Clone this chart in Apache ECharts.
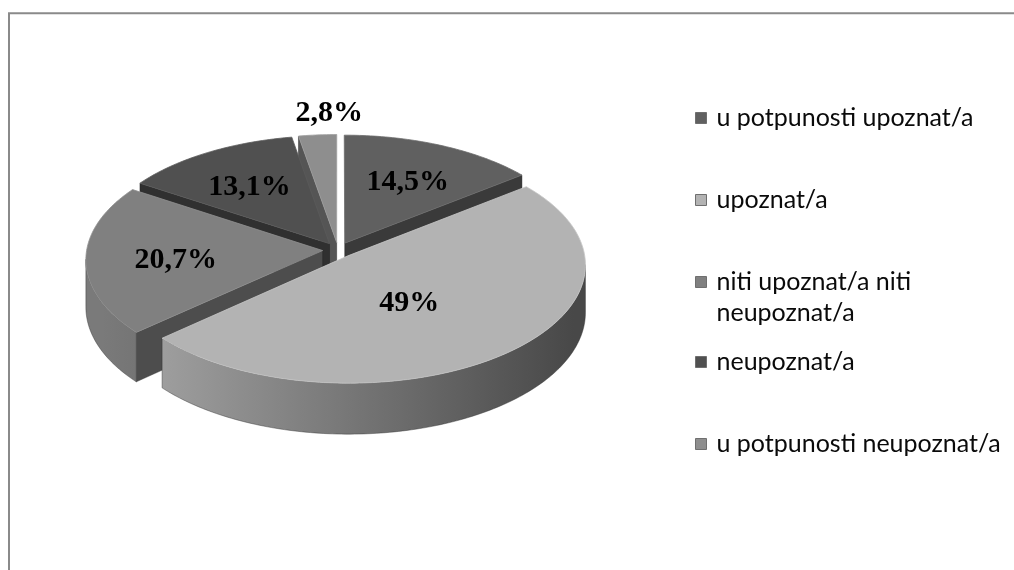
<!DOCTYPE html>
<html>
<head>
<meta charset="utf-8">
<script src="https://cdn.jsdelivr.net/npm/echarts@6/dist/echarts.min.js"></script>
<style>
  html, body { margin: 0; padding: 0; background: #fff; }
  #chart { width: 1014px; height: 570px; }
</style>
</head>
<body>
<div id="chart"></div>
<script>
// data
var categories = [
  'u potpunosti upoznat/a',
  'upoznat/a',
  'niti upoznat/a niti neupoznat/a',
  'neupoznat/a',
  'u potpunosti neupoznat/a'
];
var values = [14.5, 49, 20.7, 13.1, 2.8];

// style / layout
var colors = ['#606060', '#b3b3b3', '#808080', '#505050', '#8e8e8e'];
var legendRows = [118, 200, 282, 362, 444];
var CX = 338, CY = 250, RX = 236, RY = 117;
var PERSP = 0.074, DEPTH = 47, EXPLODE = 0.065;

var total = values.reduce(function (s, v) { return s + v; }, 0);

function sliceAngles(i) {
  var start = 0;
  for (var j = 0; j < i; j++) start += values[j];
  var a = start / total * 2 * Math.PI;
  var b = (start + values[i]) / total * 2 * Math.PI;
  return [a, b, (a + b) / 2];
}

// paint order: back slices first
var order = values.map(function (v, i) { return i; }).sort(function (p, q) {
  return Math.cos(sliceAngles(q)[2]) - Math.cos(sliceAngles(p)[2]);
});
var rank = [];
order.forEach(function (idx, r) { rank[idx] = r; });

function fmt(v) {
  return String(v).replace('.', ',') + '%';
}

function shade(hex, f) {
  var c = echarts.color.parse(hex);
  return 'rgb(' + Math.round(c[0] * f) + ',' + Math.round(c[1] * f) + ',' + Math.round(c[2] * f) + ')';
}

function centroid(pts) {
  var A = 0, x = 0, y = 0;
  for (var k = 0; k < pts.length; k++) {
    var p = pts[k], q = pts[(k + 1) % pts.length];
    var c = p[0] * q[1] - q[0] * p[1];
    A += c; x += (p[0] + q[0]) * c; y += (p[1] + q[1]) * c;
  }
  return [x / (3 * A), y / (3 * A)];
}

function renderSlice(params, api) {
  var i = params.seriesIndex;
  var ang = sliceAngles(i);
  var a = ang[0], b = ang[1], m = ang[2];
  var ou = EXPLODE * Math.sin(m), ow = -EXPLODE * Math.cos(m);
  function pt(r, t) {
    var u = ou + r * Math.sin(t), w = ow - r * Math.cos(t);
    var d = 1 - PERSP * w;
    return [CX + RX * u / d, CY + RY * w / d, DEPTH / d];
  }
  function arc(t0, t1) {
    var n = Math.max(2, Math.ceil((t1 - t0) / (Math.PI / 180)));
    var pts = [];
    for (var k = 0; k <= n; k++) pts.push(pt(1, t0 + (t1 - t0) * k / n));
    return pts;
  }
  var base = colors[i];
  var z = rank[i] * 10;
  var apex = pt(0, 0);
  var children = [];

  function face(t) {
    var e = pt(1, t);
    return {
      type: 'polygon',
      z2: z + 1,
      shape: { points: [[apex[0], apex[1]], [e[0], e[1]], [e[0], e[1] + e[2]], [apex[0], apex[1] + apex[2]]] },
      style: { fill: shade(base, 0.6), stroke: 'rgba(30,30,30,0.5)', lineWidth: 0.8 }
    };
  }
  if (Math.sin(a) < -1e-6) children.push(face(a));
  if (Math.sin(b) > 1e-6) children.push(face(b));

  // outer wall
  var t1 = Math.acos(-PERSP), t2 = 2 * Math.PI - t1;
  var lo = Math.max(a, t1), hi = Math.min(b, t2);
  if (hi > lo) {
    var top = arc(lo, hi);
    var wall = top.map(function (p) { return [p[0], p[1]]; });
    for (var k = top.length - 1; k >= 0; k--) wall.push([top[k][0], top[k][1] + top[k][2]]);
    children.push({
      type: 'polygon',
      z2: z + 2,
      shape: { points: wall },
      style: {
        fill: new echarts.graphic.LinearGradient(CX - RX, 0, CX + RX, 0, [
          { offset: 0, color: shade(base, 0.95) },
          { offset: 1, color: shade(base, 0.4) }
        ], true),
        stroke: 'rgba(50,50,50,0.55)',
        lineWidth: 0.8
      }
    });
  }

  // top face
  var face0 = [[apex[0], apex[1]]].concat(arc(a, b).map(function (p) { return [p[0], p[1]]; }));
  children.push({
    type: 'polygon',
    z2: z + 3,
    shape: { points: face0 },
    style: { fill: base, stroke: shade(base, 1.12), lineWidth: 0.8 }
  });

  // label: inside at the face centroid, small slices outside
  var share = values[i] / total;
  var lp;
  if (share < 0.05) {
    var o = pt(1.24, m);
    lp = [o[0] + 16, o[1]];
  } else {
    lp = centroid(face0);
  }
  children.push({
    type: 'text',
    z2: 1000,
    style: {
      text: fmt(api.value(0)),
      x: lp[0],
      y: lp[1] + 2,
      align: 'center',
      verticalAlign: 'middle',
      font: 'bold 30px "Liberation Serif", "Times New Roman", serif',
      fill: '#000'
    }
  });
  return { type: 'group', children: children };
}

var chart = echarts.init(document.getElementById('chart'));

var legends = categories.map(function (name, i) {
  var twoLine = name === 'niti upoznat/a niti neupoznat/a';
  return {
    data: [name],
    orient: 'vertical',
    left: 695,
    top: twoLine ? legendRows[i] - 46.5 : legendRows[i] - 15.5,
    padding: 0,
    icon: 'rect',
    itemWidth: 11,
    itemHeight: 11,
    selectedMode: false,
    itemStyle: { borderColor: '#6f6f6f', borderWidth: 1 },
    formatter: function (n) {
      // leading empty line keeps the square beside the first text line
      return twoLine ? '\nniti upoznat/a niti\nneupoznat/a' : n;
    },
    textStyle: {
      fontFamily: 'Lato',
      fontSize: 25,
      color: '#0a0a0a',
      lineHeight: 31,
      padding: [0, 0, 0, 5]
    }
  };
});

chart.setOption({
  animation: false,
  legend: legends,
  graphic: [{
    type: 'rect',
    shape: { x: 9, y: 13.3, width: 1100, height: 700 },
    style: { fill: 'none', stroke: '#8a8a8a', lineWidth: 2 },
    silent: true
  }],
  series: categories.map(function (name, i) {
    return {
      type: 'custom',
      name: name,
      coordinateSystem: 'none',
      itemStyle: { color: colors[i] },
      renderItem: renderSlice,
      data: [values[i]]
    };
  })
});
</script>
</body>
</html>
